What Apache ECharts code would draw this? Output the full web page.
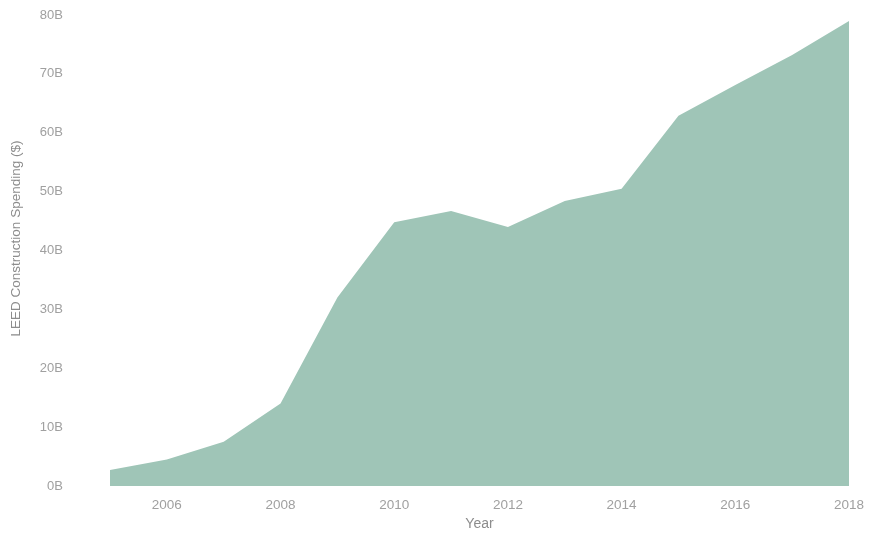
<!DOCTYPE html>
<html>
<head>
<meta charset="utf-8">
<script src="https://cdn.jsdelivr.net/npm/echarts@6/dist/echarts.min.js"></script>
<style>
  html, body { margin: 0; padding: 0; background: #fff; }
  #chart { width: 869px; height: 537px; }
</style>
</head>
<body>
<div id="chart"></div>
<script>
// LEED construction spending by year, in billions of dollars
const years = ['2005','2006','2007','2008','2009','2010','2011','2012','2013','2014','2015','2016','2017','2018'];
const spendingB = [2.7, 4.5, 7.5, 14.0, 32.0, 44.8, 46.7, 44.0, 48.4, 50.5, 62.9, 68.1, 73.2, 79.0];
const yTicks = [0, 10, 20, 30, 40, 50, 60, 70, 80];

const chart = echarts.init(document.getElementById('chart'), null, { renderer: 'canvas' });
const fontFamily = 'Liberation Sans, Arial, sans-serif';
const labelFont = { color: '#a0a0a0', fontSize: 13, fontFamily };
const titleFont = { color: '#8c8c8c', fontSize: 14, fontFamily };

chart.setOption({
  animation: false,
  grid: { left: 110, right: 20, top: 15, bottom: 51 },
  xAxis: {
    type: 'category',
    data: years,
    boundaryGap: false,
    name: 'Year',
    nameLocation: 'middle',
    nameGap: 31,
    nameTextStyle: titleFont,
    axisLine: { show: false },
    axisTick: { show: false },
    axisLabel: Object.assign({
      margin: 12,
      interval: (i, v) => Number(v) % 2 === 0
    }, labelFont, { fontSize: 13.5 }),
    splitLine: { show: false }
  },
  yAxis: {
    type: 'value',
    min: yTicks[0],
    max: yTicks[yTicks.length - 1],
    interval: yTicks[1] - yTicks[0],
    name: 'LEED Construction Spending ($)',
    nameLocation: 'middle',
    nameRotate: 90,
    nameGap: 87,
    nameTextStyle: Object.assign({ padding: [0, 0, 0, 24] }, titleFont, { fontSize: 13.5 }),
    axisLine: { show: false },
    axisTick: { show: false },
    axisLabel: Object.assign({
      margin: 47,
      formatter: v => v + 'B'
    }, labelFont),
    splitLine: { show: false }
  },
  series: [{
    type: 'line',
    data: spendingB,
    symbol: 'none',
    lineStyle: { width: 0 },
    areaStyle: { color: '#9fc5b7', opacity: 1 }
  }]
});
</script>
</body>
</html>
